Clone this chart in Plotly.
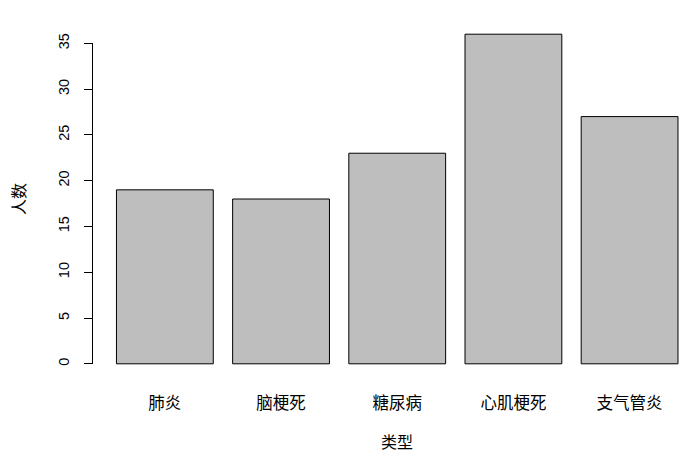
import plotly.graph_objects as go

categories = ["肺炎", "脑梗死", "糖尿病", "心肌梗死", "支气管炎"]
values = [19, 18, 23, 36, 27]
y_ticks = [0, 5, 10, 15, 20, 25, 30, 35]

# R barplot layout: width 1, space 0.2
centers = [0.7 + 1.2 * i for i in range(len(categories))]

FONT = "Liberation Sans, Arial, Noto Sans CJK SC, sans-serif"
CJK = "Noto Sans CJK SC, sans-serif"

fig = go.Figure(go.Bar(
    x=centers, y=values, width=1.0,
    marker=dict(color="#BEBEBE", line=dict(color="black", width=1)),
    hoverinfo="skip",
))

fig.update_layout(
    width=690, height=463,
    margin=dict(l=93.5, r=0, t=20.8, b=463 - 377.2),
    paper_bgcolor="white", plot_bgcolor="white",
    showlegend=False,
    font=dict(family=FONT, size=14, color="black"),
    xaxis=dict(
        range=[-0.032, 6.124], showgrid=False, zeroline=False, showline=False,
        tickvals=centers, ticktext=categories, ticks="", ticklabelstandoff=14,
        tickfont=dict(size=16.5, family=CJK),
    ),
    yaxis=dict(
        range=[-1.44, 37.44], showgrid=False, zeroline=False, showline=False,
        tickvals=y_ticks, ticks="outside", ticklen=9, tickwidth=1, tickcolor="black",
        tickangle=-90, ticklabelstandoff=9, tickfont=dict(size=14.5, family=FONT),
    ),
    shapes=[dict(type="line", xref="paper", yref="y", x0=-0.0025, x1=-0.0025,
                 y0=y_ticks[0], y1=y_ticks[-1], line=dict(color="black", width=1))],
    annotations=[
        dict(text="类型", xref="x", yref="paper", x=3.1, y=0, yshift=-63.5,
             xanchor="center", yanchor="middle",
             showarrow=False, font=dict(size=16, family=CJK)),
        dict(text="人数", xref="paper", yref="paper", x=0, y=0.5, xshift=-76,
             xanchor="center", yanchor="middle",
             textangle=-90, showarrow=False, font=dict(size=16, family=CJK)),
    ],
)

fig.write_html("out.html", config={"displayModeBar": False, "staticPlot": True},
               post_script="document.body.style.margin='0';document.body.style.overflow='hidden';")
